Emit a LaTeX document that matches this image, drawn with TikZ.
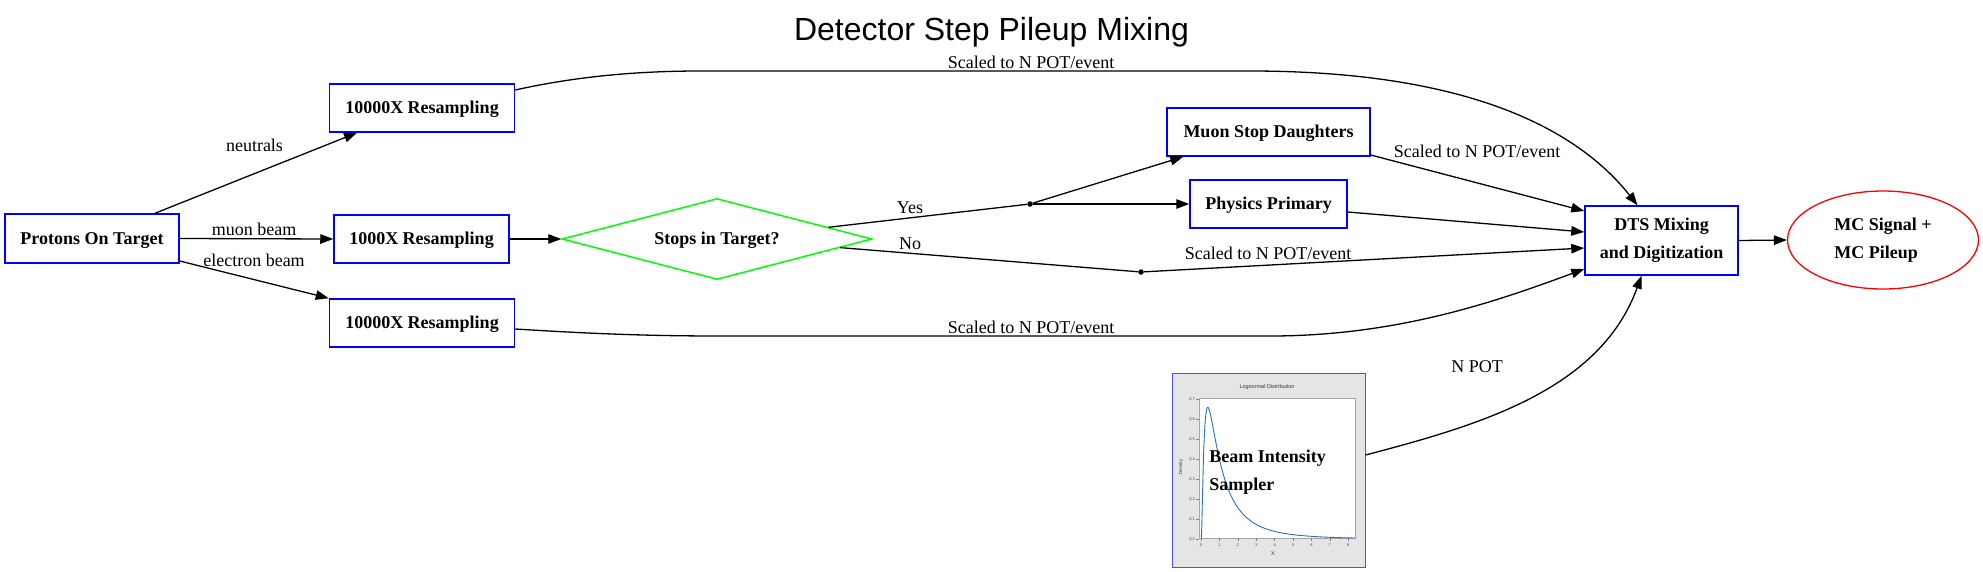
\documentclass[tikz,border=0pt]{standalone}
\usepackage{fontspec}
\setmainfont{Liberation Serif}
\newfontfamily\titlefont{Liberation Sans}
\usetikzlibrary{arrows.meta,shapes.geometric,calc}
\definecolor{plotblue}{HTML}{2F6EBA}
\begin{document}
\begin{tikzpicture}[x=1pt,y=-1pt,
  box/.style={draw=blue, line width=1.5pt, rectangle, inner sep=0pt,
    font=\fontsize{18}{28}\selectfont\bfseries},
  one/.style={text height=11.9pt, text depth=0pt},
  edge/.style={line width=1.3pt, -{Triangle[length=13pt,width=9.5pt]}},
  plain/.style={line width=1.3pt},
  lbl/.style={font=\fontsize{18}{22}\selectfont, anchor=base, inner sep=0pt},
  dotnode/.style={circle, fill=black, inner sep=0pt, minimum size=5.5pt},
  tick/.style={font=\titlefont\fontsize{4}{5}\selectfont, inner sep=0pt, text=black!70},
]
\useasboundingbox (0,0) rectangle (1983,571);

% title
\node[font=\titlefont\fontsize{32}{36}\selectfont, anchor=base, inner sep=0pt] (title) at (991.5,40) {Detector Step Pileup Mixing};

% nodes
\node[box, one, minimum width=174pt, minimum height=49pt] (pot) at (92,238.5) {Protons On Target};
\node[box, one, minimum width=185pt, minimum height=48pt] (r1) at (422,108) {10000X Resampling};
\node[box, one, minimum width=175pt, minimum height=48pt] (rm) at (421.5,239) {1000X Resampling};
\node[box, one, minimum width=185pt, minimum height=48pt] (r3) at (422,323) {10000X Resampling};
\node[draw=green, line width=1.5pt, diamond, shape aspect=3.8, inner sep=0pt,
  minimum width=310pt, minimum height=81pt, one,
  font=\fontsize{18}{28}\selectfont\bfseries] (dia) at (717,239) {Stops in Target?};
\node[dotnode] (yd) at (1030,204) {};
\node[dotnode] (nd) at (1141,272) {};
\node[box, one, minimum width=203pt, minimum height=48pt] (msd) at (1268.5,132) {Muon Stop Daughters};
\node[box, one, minimum width=157pt, minimum height=48pt] (pp) at (1268.5,204) {Physics Primary};
\node[box, align=center, minimum width=153pt, minimum height=69pt] (dts) at (1661.5,240.5) {DTS Mixing\\and Digitization};
\node[draw=red, line width=1.3pt, ellipse, inner sep=0pt, minimum width=191pt, minimum height=98pt,
  align=left, font=\fontsize{18}{28}\selectfont\bfseries] (mc) at (1883,240) {MC Signal +\\MC Pileup};

% beam intensity sampler (picture node)
\node[draw=blue!70, line width=1pt, fill=black!10, minimum width=193pt, minimum height=194pt, inner sep=0pt] (beam) at (1268.5,470) {};
\fill[white] (1199,398) rectangle (1355,538);
\draw[black!35, line width=0.4pt] (1199,398) rectangle (1355,538);
\node[font=\titlefont\fontsize{5.5}{6}\selectfont, inner sep=0pt, text=black!80] (ctitle) at (1267,387) {Lognormal Distribution};
\foreach \v in {0,...,7} {
  \draw[black!50, line width=0.3pt] (1196,{539-20*\v}) -- (1199,{539-20*\v});
  \node[tick, anchor=east] (yt\v) at (1195,{539-20*\v}) {0.\v};
}
\foreach \k in {0,...,8} {
  \draw[black!50, line width=0.3pt] ({1201+18.4*\k},538) -- ({1201+18.4*\k},541);
  \node[tick] (xt\k) at ({1201+18.4*\k},545) {\k};
}
\node[font=\titlefont\fontsize{5.5}{6}\selectfont, inner sep=0pt, text=black!80] (xlab) at (1273,554) {X};
\node[font=\titlefont\fontsize{4.5}{5}\selectfont, inner sep=0pt, text=black!80, rotate=90] (ylab) at (1181,467) {Density};
\draw[plotblue, line width=0.9pt] (1201,539) -- plot[domain=0.01:8.37, samples=400]
  ({1201+18.4*\x},{539-200*(1/(\x*2.5066))*exp(-(ln(\x))^2/2)});
\node[align=left, inner sep=0pt, font=\fontsize{18}{28}\selectfont\bfseries] (beamtxt) at (1267.5,472) {Beam Intensity\\Sampler};

% edges
\draw[edge] ($(pot.north)+(63,0)$) -- ($(r1.south)+(-65,0)$);
\node[lbl] (lneu) at (254.5,151) {neutrals};
\draw[edge] (pot.east) -- (rm.west);
\node[lbl] (lmu) at (254,235) {muon beam};
\draw[edge] ($(pot.east)+(0,22.5)$) -- (r3.north west);
\node[lbl] (lel) at (254,266) {electron beam};
\draw[edge] (rm.east) -- (dia.west);

\draw[plain] (dia.6) -- (yd);
\node[lbl] (lyes) at (910,213) {Yes};
\draw[edge] (yd) -- ($(msd.south west)+(17,0)$);
\draw[edge] (yd) -- (pp.west);
\draw[plain] (dia.-4) -- (nd);
\node[lbl] (lno) at (910,249) {No};
\draw[edge] (nd) -- ($(dts.west)+(0,7.5)$);
\node[lbl] (lsno) at (1268,259) {Scaled to N POT/event};

\draw[edge] ($(msd.east)+(0,23)$) -- ($(dts.west)+(0,-29.5)$);
\node[lbl] (lsmsd) at (1477,157) {Scaled to N POT/event};
\draw[edge] ($(pp.east)+(0,8)$) -- ($(dts.west)+(0,-8.5)$);

\draw[edge] ($(r1.east)+(0,-18)$) .. controls (560,80) and (620,71) .. (700,71) -- (1250,71)
  .. controls (1450,71) and (1570,120) .. ($(dts.north)+(-24,0)$);
\node[lbl] (lstop) at (1031,68) {Scaled to N POT/event};
\draw[edge] ($(r3.east)+(0,6)$) .. controls (580,333) and (640,336) .. (720,336) -- (1270,336)
  .. controls (1400,336) and (1500,300) .. ($(dts.west)+(0,28.5)$);
\node[lbl] (lsbot) at (1031,333) {Scaled to N POT/event};

\draw[edge] ($(beam.east)+(0,-15)$) .. controls (1480,425) and (1600,390) .. ($(dts.south)+(-20,0)$);
\node[lbl] (lnpot) at (1477,372.7) {N POT};

\draw[edge] (dts.east) -- (mc.west);
\end{tikzpicture}
\end{document}
